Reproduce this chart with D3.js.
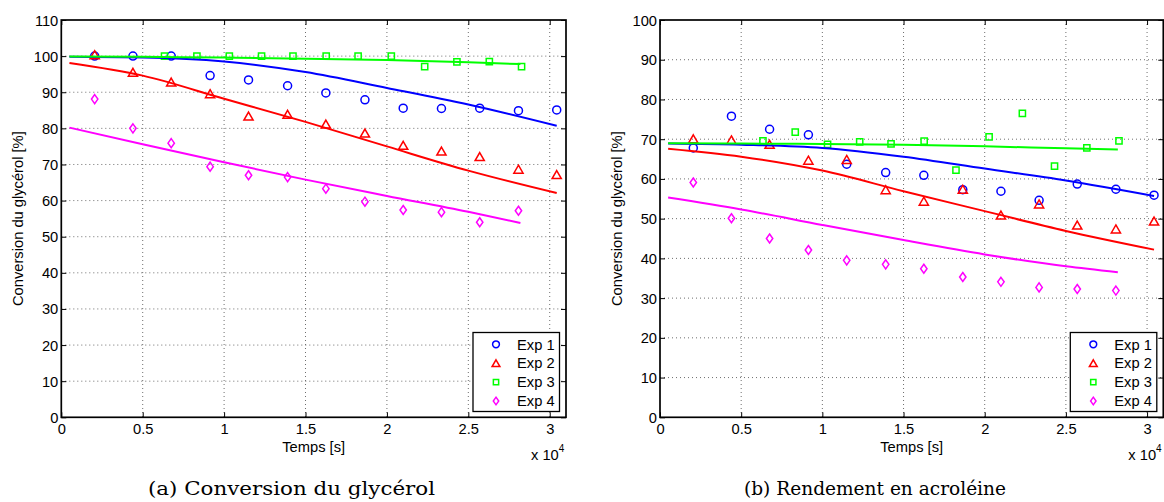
<!DOCTYPE html>
<html><head><meta charset="utf-8">
<script src="https://cdn.jsdelivr.net/npm/d3@7"></script>
<style>
body{margin:0;background:#fff;}
svg{display:block;}
</style>
</head><body>
<svg id="c" width="1164" height="502"></svg>
<script>
// ---------------- data ----------------
const seriesNames = ["Exp 1", "Exp 2", "Exp 3", "Exp 4"];
const seriesColors = ["#0000ff", "#ff0000", "#00ff00", "#ff00ff"];
const seriesShapes = ["circle", "triangle", "square", "diamond"];

// sampling times [s]
const timeExp1 = [2050, 4400, 6750, 9140, 11500, 13900, 16250, 18650, 21000, 23350, 25700, 28080, 30430];
const timeExp2 = [2050, 4400, 6750, 9140, 11500, 13900, 16250, 18650, 21000, 23350, 25700, 28080, 30430];
const timeExp3 = [6340, 8330, 10320, 12300, 14230, 16270, 18230, 20270, 22320, 24300, 26290, 28270];
const timeExp4 = [2050, 4400, 6750, 9140, 11500, 13900, 16250, 18650, 21000, 23350, 25700, 28080];

// (a) Conversion du glycérol [%]
const convExp1 = [100, 100, 100, 94.6, 93.4, 91.8, 89.8, 87.9, 85.6, 85.5, 85.6, 84.9, 85.1];
const convExp2 = [100.4, 95.5, 92.8, 89.6, 83.4, 83.9, 81.2, 78.7, 75.3, 73.7, 72.2, 68.7, 67.2];
const convExp3 = [100, 100, 100, 100, 100, 100, 100, 100, 97.1, 98.4, 98.5, 97.1];
const convExp4 = [88.1, 80.0, 75.9, 69.4, 67.0, 66.5, 63.3, 59.7, 57.4, 56.8, 54.0, 57.2];

// (b) Rendement en acroléine [%]
const yieldExp1 = [67.8, 75.8, 72.5, 71.1, 63.7, 61.6, 60.9, 57.3, 56.9, 54.6, 58.7, 57.4, 55.9];
const yieldExp2 = [70.1, 69.8, 68.7, 64.7, 64.9, 57.3, 54.4, 57.4, 50.9, 53.7, 48.4, 47.4, 49.4];
const yieldExp3 = [69.6, 71.8, 68.7, 69.3, 68.8, 69.5, 62.2, 70.6, 76.5, 63.2, 67.8, 69.6];
const yieldExp4 = [59.1, 50.1, 45.0, 42.1, 39.5, 38.5, 37.4, 35.3, 34.1, 32.7, 32.3, 31.9];

// model curves
const fitTimeLong  = [500, 5000, 10000, 15000, 20000, 25000, 30430];
const fitTimeShort = [500, 5000, 10000, 15000, 20000, 25000, 28200];
const convFit1 = [99.8, 99.6, 98.5, 95.6, 91.2, 86.6, 80.7];
const convFit2 = [98.1, 94.6, 88.2, 81.8, 75.0, 68.3, 62.1];
const convFit3 = [99.9, 99.8, 99.6, 99.3, 98.9, 98.3, 97.8];
const convFit4 = [80.2, 75.6, 70.6, 65.8, 61.3, 56.9, 53.8];
const yieldFit1 = [68.9, 68.6, 67.8, 65.6, 62.6, 59.6, 55.7];
const yieldFit2 = [67.6, 65.6, 62.1, 56.9, 51.9, 46.9, 42.2];
const yieldFit3 = [69.0, 68.9, 68.8, 68.6, 68.2, 67.7, 67.4];
const yieldFit4 = [55.3, 52.3, 48.4, 44.6, 41.0, 38.0, 36.5];

// ticks
const xTickValues = [0, 5000, 10000, 15000, 20000, 25000, 30000];
const xTickLabels = ["0", "0.5", "1", "1.5", "2", "2.5", "3"];
const yTicksA = [0, 10, 20, 30, 40, 50, 60, 70, 80, 90, 100, 110];
const yTicksB = [0, 10, 20, 30, 40, 50, 60, 70, 80, 90, 100];

const xLabel = "Temps [s]";
const yLabel = "Conversion du glycérol [%]";
const captionA = "(a) Conversion du glycérol";
const captionB = "(b) Rendement en acroléine";

// ---------------- drawing ----------------
const SANS = '"Liberation Sans", Arial, Helvetica, sans-serif';
const SERIF = '"DejaVu Serif", "Liberation Serif", serif';
const svg = d3.select("#c");
svg.append("rect").attr("width", 1164).attr("height", 502).attr("fill", "#fff");

function markerPath(shape, s) {
  if (shape === "circle") {
    const r = 4 * s;
    return `M${r},0A${r},${r} 0 1,1 ${-r},0A${r},${r} 0 1,1 ${r},0Z`;
  }
  if (shape === "triangle") {
    const w = 4.6 * s, h = 4.0 * s;
    return `M0,${-h}L${w},${h}L${-w},${h}Z`;
  }
  if (shape === "square") {
    const a = 3.1 * s;
    return `M${-a},${-a}H${a}V${a}H${-a}Z`;
  }
  const w = 3.2 * s, h = 4.5 * s;
  return `M0,${-h}L${w},0L0,${h}L${-w},0Z`;
}

function drawPanel(cfg) {
  const g = svg.append("g");
  const x = d3.scaleLinear().domain([0, 31000]).range([cfg.left, cfg.right]);
  const y = d3.scaleLinear().domain([0, cfg.ymax]).range([cfg.bottom, cfg.top]);

  // grid
  const grid = g.append("g").attr("stroke", "#6e6e6e").attr("stroke-width", 1)
    .attr("stroke-dasharray", "1,3").attr("fill", "none");
  xTickValues.filter(v => v > 0).forEach(v => {
    grid.append("line").attr("x1", x(v)).attr("x2", x(v)).attr("y1", cfg.top).attr("y2", cfg.bottom);
  });
  cfg.yTicks.filter(v => v > 0 && v < cfg.ymax).forEach(v => {
    grid.append("line").attr("x1", cfg.left).attr("x2", cfg.right).attr("y1", y(v)).attr("y2", y(v));
  });

  // markers
  cfg.series.forEach((s, i) => {
    const pts = s.t.map((t, k) => [t, s.v[k]]);
    g.append("g").selectAll("path").data(pts).join("path")
      .attr("d", markerPath(seriesShapes[i], 1))
      .attr("transform", d => `translate(${x(d[0])},${y(d[1])})`)
      .attr("fill", "none").attr("stroke", seriesColors[i]).attr("stroke-width", 1.5);
  });

  // fit lines
  const line = d3.line().x(d => x(d[0])).y(d => y(d[1])).curve(d3.curveMonotoneX);
  cfg.series.forEach((s, i) => {
    const pts = s.ft.map((t, k) => [t, s.fv[k]]);
    g.append("path").datum(pts).attr("d", line)
      .attr("fill", "none").attr("stroke", seriesColors[i]).attr("stroke-width", 2);
  });

  // axes
  const fs = "14.7px";
  const ax = d3.axisBottom(x).tickValues(xTickValues).tickFormat((d, i) => xTickLabels[i])
    .tickSizeInner(-5).tickSizeOuter(0).tickPadding(6);
  const axB = g.append("g").attr("transform", `translate(0,${cfg.bottom})`).call(ax);
  const axT = g.append("g").attr("transform", `translate(0,${cfg.top})`)
    .call(d3.axisTop(x).tickValues(xTickValues).tickFormat("").tickSizeInner(-5).tickSizeOuter(0));
  const ay = d3.axisLeft(y).tickValues(cfg.yTicks).tickFormat(d3.format("d"))
    .tickSizeInner(-5).tickSizeOuter(0).tickPadding(3);
  const axL = g.append("g").attr("transform", `translate(${cfg.left},0)`).call(ay);
  const axR = g.append("g").attr("transform", `translate(${cfg.right},0)`)
    .call(d3.axisRight(y).tickValues(cfg.yTicks).tickFormat("").tickSizeInner(-5).tickSizeOuter(0));
  [axB, axT, axL, axR].forEach(a => {
    a.attr("font-family", null).attr("font-size", null);
    a.select(".domain").remove();
    a.selectAll("line").attr("stroke", "#000").attr("stroke-width", 1);
    a.selectAll("text").style("font-size", fs).style("font-family", SANS).attr("fill", "#000");
  });
  axL.selectAll("text").attr("dy", "0.34em");

  // box
  g.append("rect").attr("x", cfg.left).attr("y", cfg.top)
    .attr("width", cfg.right - cfg.left).attr("height", cfg.bottom - cfg.top)
    .attr("fill", "none").attr("stroke", "#000").attr("stroke-width", 1.7);

  // axis labels
  g.append("text").attr("x", (cfg.left + cfg.right) / 2).attr("y", 452)
    .attr("text-anchor", "middle").style("font-size", fs).style("font-family", SANS).text(xLabel);
  g.append("text").attr("transform", `translate(${cfg.left - 38},${(cfg.top + cfg.bottom) / 2}) rotate(-90)`)
    .attr("text-anchor", "middle").style("font-size", fs).style("font-family", SANS).text(yLabel);
  const mult = g.append("text").attr("x", cfg.right - 35).attr("y", 459.5)
    .style("font-size", fs).style("font-family", SANS);
  mult.append("tspan").text("x 10");
  mult.append("tspan").style("font-size", "10px").attr("dy", -8).text("4");

  // legend
  const lg = g.append("g");
  const lx0 = cfg.right - 93, ly0 = 332.5, lw = 86.5, lh = 79;
  lg.append("rect").attr("x", lx0).attr("y", ly0).attr("width", lw).attr("height", lh)
    .attr("fill", "#fff").attr("stroke", "#000").attr("stroke-width", 1.3);
  seriesNames.forEach((n, i) => {
    const cy = ly0 + 11.8 + i * 18.9;
    lg.append("path").attr("d", markerPath(seriesShapes[i], 0.85))
      .attr("transform", `translate(${lx0 + 23},${cy})`)
      .attr("fill", "none").attr("stroke", seriesColors[i]).attr("stroke-width", 1.5);
    lg.append("text").attr("x", lx0 + 44).attr("y", cy + 5.2)
      .style("font-size", fs).style("font-family", SANS).text(n);
  });

  // caption
  svg.append("text").attr("x", cfg.capX).attr("y", 495).attr("text-anchor", "middle")
    .style("font-family", SERIF).style("font-size", "19px")
    .attr("textLength", cfg.capW).attr("lengthAdjust", "spacingAndGlyphs")
    .text(cfg.caption);
}

drawPanel({
  left: 61.3, right: 566, top: 20, bottom: 417.3, ymax: 110, yTicks: yTicksA,
  caption: captionA, capX: 291.5, capW: 287,
  series: [
    { t: timeExp1, v: convExp1, ft: fitTimeLong, fv: convFit1 },
    { t: timeExp2, v: convExp2, ft: fitTimeLong, fv: convFit2 },
    { t: timeExp3, v: convExp3, ft: fitTimeShort, fv: convFit3 },
    { t: timeExp4, v: convExp4, ft: fitTimeShort, fv: convFit4 }
  ]
});
drawPanel({
  left: 660, right: 1163.3, top: 20, bottom: 417.3, ymax: 100, yTicks: yTicksB,
  caption: captionB, capX: 875, capW: 262,
  series: [
    { t: timeExp1, v: yieldExp1, ft: fitTimeLong, fv: yieldFit1 },
    { t: timeExp2, v: yieldExp2, ft: fitTimeLong, fv: yieldFit2 },
    { t: timeExp3, v: yieldExp3, ft: fitTimeShort, fv: yieldFit3 },
    { t: timeExp4, v: yieldExp4, ft: fitTimeShort, fv: yieldFit4 }
  ]
});
</script>
</body></html>
